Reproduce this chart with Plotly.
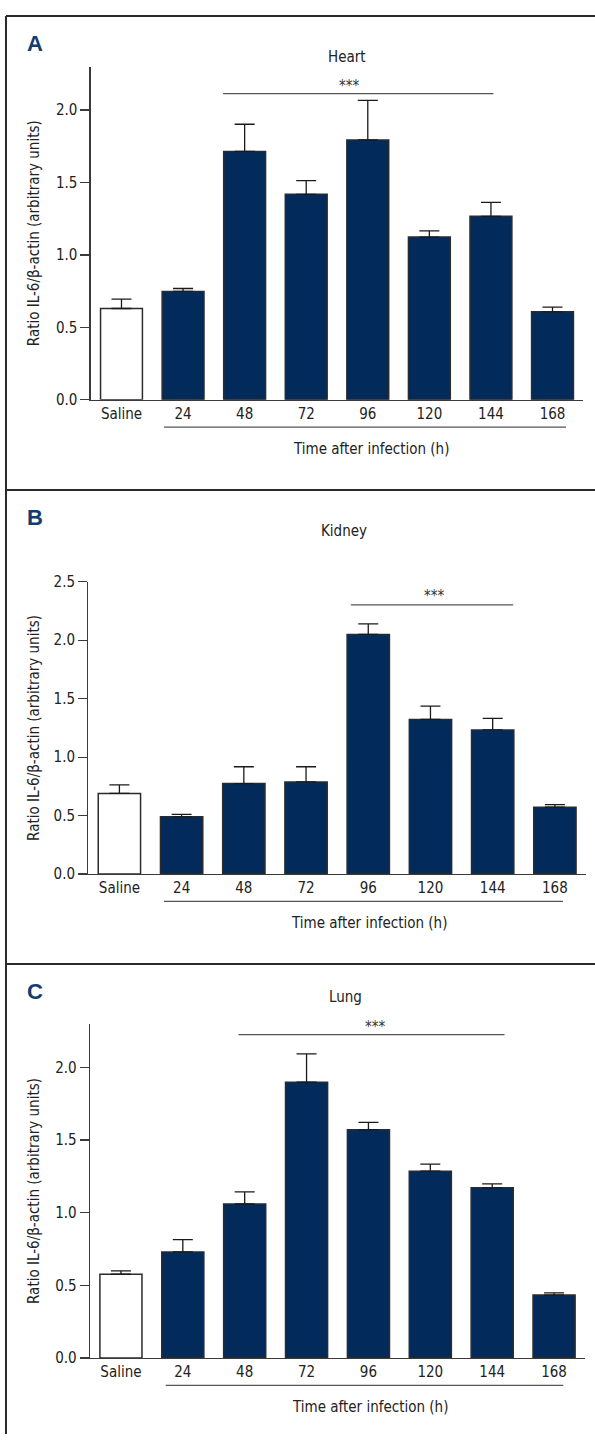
import plotly.graph_objects as go

W, H = 595, 1443

categories = ["Saline", "24", "48", "72", "96", "120", "144", "168"]

heart_values = [0.63, 0.748, 1.714, 1.418, 1.793, 1.123, 1.266, 0.607]
heart_errors = [0.065, 0.020, 0.188, 0.095, 0.273, 0.043, 0.097, 0.032]

kidney_values = [0.69, 0.49, 0.774, 0.788, 2.05, 1.323, 1.233, 0.572]
kidney_errors = [0.073, 0.020, 0.144, 0.130, 0.090, 0.113, 0.099, 0.022]

lung_values = [0.577, 0.73, 1.06, 1.898, 1.571, 1.286, 1.171, 0.433]
lung_errors = [0.023, 0.085, 0.083, 0.196, 0.051, 0.048, 0.027, 0.015]

panel_letters = ["A", "B", "C"]
panel_titles = ["Heart", "Kidney", "Lung"]
y_max = [2.3, 2.5, 2.3]
y_ticks = [[0.0, 0.5, 1.0, 1.5, 2.0], [0.0, 0.5, 1.0, 1.5, 2.0, 2.5], [0.0, 0.5, 1.0, 1.5, 2.0]]

# significance bars (category positions / values)
sig_start = [1.65, 3.72, 1.90]
sig_end = [6.04, 6.33, 6.20]
sig_y = [2.113, 2.303, 2.226]
star_x = [3.69, 5.05, 4.10]
star_y = [2.164, 2.38, 2.278]

y_title = "Ratio IL-6/β-actin (arbitrary units)"
x_title = "Time after infection (h)"

# layout geometry (pixels)
geo = [
    dict(x0=90.7, x1=583.3, yt=58.3, yb=395.7, ul0=164, ul1=566, xt=371, tx=346.7, ty=48.3, ly=35),
    dict(x0=88.3, x1=586.0, yt=580.0, yb=876.0, ul0=164, ul1=563, xt=369, tx=344.3, ty=529, ly=515),
    dict(x0=90.0, x1=585.0, yt=1027.7, yb=1366.0, ul0=165.7, ul1=563.3, xt=370, tx=345.7, ty=1000, ly=995),
]
panel_tops = [7, 487, 967]

FONT = "DejaVu Sans Condensed, Liberation Sans Narrow, sans-serif"
FS = 15
NAVY = "#022b5c"
EDGE = "#2b2b2b"
AX = "#3a3a3a"

def px(x):
    return x / W

def py(y):
    return 1 - y / H

series = [(heart_values, heart_errors), (kidney_values, kidney_errors), (lung_values, lung_errors)]

fig = go.Figure()
shapes = []
annotations = []

for i, (vals, errs) in enumerate(series):
    g = geo[i]
    xa = "x" if i == 0 else f"x{i+1}"
    ya = "y" if i == 0 else f"y{i+1}"
    fig.add_trace(go.Bar(
        x=categories, y=vals, xaxis=xa, yaxis=ya, width=0.68,
        marker=dict(color=["white"] + [NAVY] * 7, line=dict(color=EDGE, width=1.5)),
        error_y=dict(type="data", symmetric=False, array=errs, arrayminus=[0] * len(errs),
                     color="#1a1a1a", thickness=1.3, width=10),
        showlegend=False, hoverinfo="skip",
    ))
    xkey = "xaxis" if i == 0 else f"xaxis{i+1}"
    ykey = "yaxis" if i == 0 else f"yaxis{i+1}"
    fig.layout[xkey] = dict(
        domain=[px(g["x0"]), px(g["x1"])], anchor=ya, type="category",
        range=[-0.5, 7.5], showline=True, linecolor=AX, linewidth=1.3,
        ticks="", showgrid=False, zeroline=False,
        tickfont=dict(family=FONT, size=FS, color="#222"),
    )
    fig.layout[ykey] = dict(
        domain=[py(g["yb"]), py(g["yt"])], anchor=xa,
        range=[0, y_max[i]], showline=True, linecolor=AX, linewidth=1.3,
        ticks="outside", ticklen=9, tickwidth=1.2, tickcolor=AX,
        tickvals=y_ticks[i], tickformat=".1f", showgrid=False, zeroline=False,
        tickfont=dict(family=FONT, size=FS, color="#222"),
    )
    shapes.append(dict(type="line", xref=xa, yref=ya, x0=sig_start[i], x1=sig_end[i],
                       y0=sig_y[i], y1=sig_y[i], line=dict(color="#555", width=1.3)))
    annotations.append(dict(xref=xa, yref=ya, x=star_x[i], y=star_y[i], text="***",
                            showarrow=False, font=dict(family=FONT, size=FS, color="#333"),
                            yanchor="middle"))
    shapes.append(dict(type="line", xref="paper", yref="paper", x0=px(g["ul0"]), x1=px(g["ul1"]),
                       y0=py(g["yb"] + 27.7), y1=py(g["yb"] + 27.7), line=dict(color="#555", width=1.3)))
    annotations.append(dict(xref="paper", yref="paper", x=px(g["xt"]), y=py(g["yb"] + 50),
                            text=x_title, showarrow=False, xanchor="center", yanchor="middle",
                            font=dict(family=FONT, size=FS, color="#222")))
    annotations.append(dict(xref="paper", yref="paper", x=px(34), y=py((g["yt"] + g["yb"]) / 2),
                            text=y_title, showarrow=False, textangle=-90, xanchor="center",
                            yanchor="middle", font=dict(family=FONT, size=FS, color="#222")))
    annotations.append(dict(xref="paper", yref="paper", x=px(g["tx"]), y=py(g["ty"]),
                            text=panel_titles[i], showarrow=False, xanchor="center", yanchor="middle",
                            font=dict(family=FONT, size=FS, color="#222")))
    annotations.append(dict(xref="paper", yref="paper", x=px(25), y=py(g["ly"]),
                            text=f"<b>{panel_letters[i]}</b>", showarrow=False, xanchor="left",
                            yanchor="middle", font=dict(family="Liberation Sans, Arial, sans-serif",
                                                        size=22, color="#123d70")))
    shapes.append(dict(type="line", xref="paper", yref="paper", x0=px(6), x1=1,
                       y0=py(panel_tops[i]), y1=py(panel_tops[i]), line=dict(color="#2a2a2a", width=2)))

shapes.append(dict(type="line", xref="paper", yref="paper", x0=px(6), x1=px(6),
                   y0=0, y1=py(panel_tops[0]), line=dict(color="#2a2a2a", width=2)))

fig.update_layout(
    width=W, height=H, margin=dict(l=0, r=0, t=0, b=0),
    paper_bgcolor="white", plot_bgcolor="white",
    shapes=shapes, annotations=annotations, bargap=0.3,
)

fig.write_html(
    "out.html",
    config={"displayModeBar": False, "staticPlot": True},
    post_script="document.body.style.margin='0';document.body.style.padding='0';"
                "document.body.style.overflow='hidden';document.documentElement.style.overflow='hidden';",
)
